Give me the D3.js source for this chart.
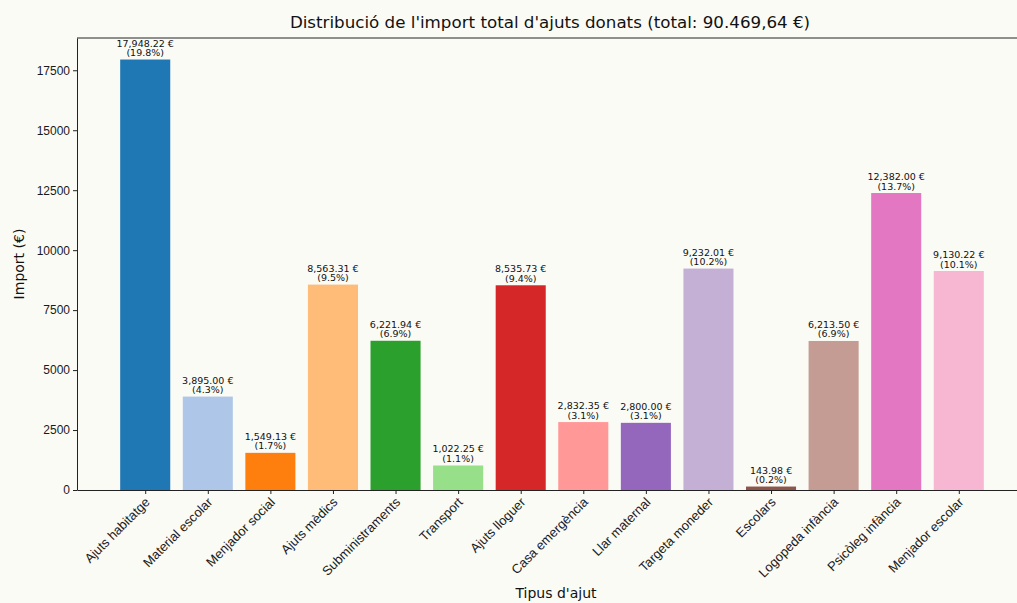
<!DOCTYPE html>
<html>
<head>
<meta charset="utf-8">
<script src="https://cdn.jsdelivr.net/npm/d3@7"></script>
<style>
  body { margin: 0; background: #fbfbf6; }
  svg { display: block; font-family: "DejaVu Sans", sans-serif; }
  .tick text { fill: #1a1a1a; }
</style>
</head>
<body>
<div id="chart"></div>
<script>
// chart data
var categories = ["Ajuts habitatge", "Material escolar", "Menjador social", "Ajuts mèdics",
  "Subministraments", "Transport", "Ajuts lloguer", "Casa emergència", "Llar maternal",
  "Targeta moneder", "Escolars", "Logopeda infància", "Psicòleg infància", "Menjador escolar"];
var amounts = [17948.22, 3895.00, 1549.13, 8563.31, 6221.94, 1022.25, 8535.73,
  2832.35, 2800.00, 9232.01, 143.98, 6213.50, 12382.00, 9130.22];
var barColors = ["#1f77b4", "#aec7e8", "#ff7f0e", "#ffbb78", "#2ca02c", "#98df8a", "#d62728",
  "#ff9896", "#9467bd", "#c5b0d5", "#8c564b", "#c49c94", "#e377c2", "#f7b6d2"];
var yTicks = [0, 2500, 5000, 7500, 10000, 12500, 15000, 17500];

var width = 1017, height = 603;
var plotLeft = 77, plotTop = 38, plotBottom = 490;

var total = d3.sum(amounts);
var euro = d3.formatLocale({ decimal: ",", thousands: ".", grouping: [3], currency: ["", " €"] });

var svg = d3.select("#chart").append("svg")
  .attr("width", width)
  .attr("height", height);

// x scale in "bar index" units, like matplotlib (-0.4 .. 13.4 plus 5% margins)
var span = (categories.length - 1) + 0.8;
var pad = span * 0.05;
var x = d3.scaleLinear()
  .domain([-0.4 - pad, categories.length - 1 + 0.4 + pad])
  .range([plotLeft, 1027]);
var barW = x(0.8) - x(0);

var y = d3.scaleLinear()
  .domain([0, d3.max(amounts) * 1.05])
  .range([plotBottom, plotTop]);

// bars
svg.selectAll("rect.bar")
  .data(amounts)
  .enter().append("rect")
  .attr("class", "bar")
  .attr("x", function(d, i) { return x(i) - barW / 2; })
  .attr("y", function(d) { return y(d); })
  .attr("width", barW)
  .attr("height", function(d) { return plotBottom - y(d); })
  .attr("fill", function(d, i) { return barColors[i]; });

// value labels
var lab = svg.selectAll("text.val")
  .data(amounts)
  .enter().append("text")
  .attr("class", "val")
  .attr("text-anchor", "middle")
  .attr("font-size", 9.5)
  .attr("fill", "#111")
  .attr("x", function(d, i) { return x(i); })
  .attr("y", function(d) { return y(d) - 13; });
lab.append("tspan")
  .text(function(d) { return d3.format(",.2f")(d) + " €"; });
lab.append("tspan")
  .attr("x", function(d, i) { return x(i); })
  .attr("dy", 9.5)
  .text(function(d) { return "(" + (d / total * 100).toFixed(1) + "%)"; });

// axes
var xAxis = d3.axisBottom(x)
  .tickValues(d3.range(categories.length))
  .tickFormat(function(i) { return categories[i]; })
  .tickSize(4)
  .tickSizeOuter(0);
var gx = svg.append("g")
  .attr("transform", "translate(0," + plotBottom + ")")
  .call(xAxis);
gx.selectAll(".tick text")
  .attr("font-size", 13)
  .attr("text-anchor", "end")
  .attr("y", 0)
  .attr("dy", 0)
  .attr("transform", "translate(5,13) rotate(-45)");

var gy = svg.append("g")
  .attr("transform", "translate(" + plotLeft + ",0)")
  .call(d3.axisLeft(y).tickValues(yTicks).tickFormat(d3.format("d")).tickSize(4).tickSizeOuter(0));
gy.selectAll(".tick text").attr("font-size", 12);

svg.selectAll(".domain").attr("stroke", "#222");
svg.selectAll(".tick line").attr("stroke", "#222");

// top spine
svg.append("line")
  .attr("x1", plotLeft).attr("x2", width)
  .attr("y1", plotTop).attr("y2", plotTop)
  .attr("stroke", "#222");

// titles
svg.append("text")
  .attr("x", 550).attr("y", 28)
  .attr("text-anchor", "middle")
  .attr("font-size", 16.7)
  .attr("fill", "#111")
  .text("Distribució de l'import total d'ajuts donats (total: " + euro.format(",.2f")(total) + " €)");

svg.append("text")
  .attr("x", 556).attr("y", 598)
  .attr("text-anchor", "middle")
  .attr("font-size", 14)
  .attr("fill", "#111")
  .text("Tipus d'ajut");

svg.append("text")
  .attr("transform", "translate(24," + ((plotTop + plotBottom) / 2) + ") rotate(-90)")
  .attr("text-anchor", "middle")
  .attr("font-size", 14)
  .attr("fill", "#111")
  .text("Import (€)");
</script>
</body>
</html>
